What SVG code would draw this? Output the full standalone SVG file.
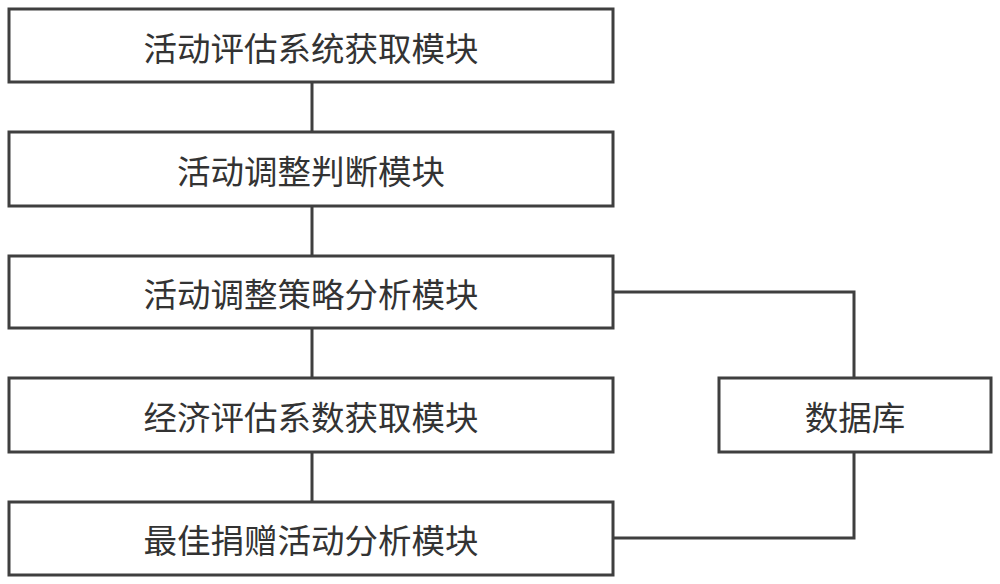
<svg xmlns="http://www.w3.org/2000/svg" width="1000" height="584" viewBox="0 0 1000 584">
<style>
.box{fill:#fff;stroke:#3f3f3f;stroke-width:3}
.lbl{font-family:"Noto Sans CJK SC","Noto Sans",sans-serif;font-size:33.5px;fill:#333;text-anchor:middle;dominant-baseline:central}
.con{fill:none;stroke:#3f3f3f;stroke-width:3}
</style>
<rect width="1000" height="584" fill="#fff"/>
<g id="connectors">
<line class="con" x1="312" y1="82" x2="312" y2="132"/>
<line class="con" x1="312" y1="206" x2="312" y2="256"/>
<line class="con" x1="312" y1="328" x2="312" y2="378"/>
<line class="con" x1="312" y1="452" x2="312" y2="502"/>
<polyline class="con" points="613,292 854,292 854,378"/>
<polyline class="con" points="854,452 854,538 613,538"/>
</g>
<g id="n1"><rect class="box" x="9" y="9" width="604" height="73"/><text class="lbl" x="311" y="46">活动评估系统获取模块</text></g>
<g id="n2"><rect class="box" x="9" y="132" width="604" height="74"/><text class="lbl" x="311" y="169">活动调整判断模块</text></g>
<g id="n3"><rect class="box" x="9" y="256" width="604" height="72"/><text class="lbl" x="311" y="292">活动调整策略分析模块</text></g>
<g id="n4"><rect class="box" x="9" y="378" width="604" height="74"/><text class="lbl" x="311" y="415">经济评估系数获取模块</text></g>
<g id="n5"><rect class="box" x="9" y="502" width="604" height="73"/><text class="lbl" x="311" y="538">最佳捐赠活动分析模块</text></g>
<g id="db"><rect class="box" x="719" y="378" width="272" height="74"/><text class="lbl" x="855" y="415">数据库</text></g>
</svg>
